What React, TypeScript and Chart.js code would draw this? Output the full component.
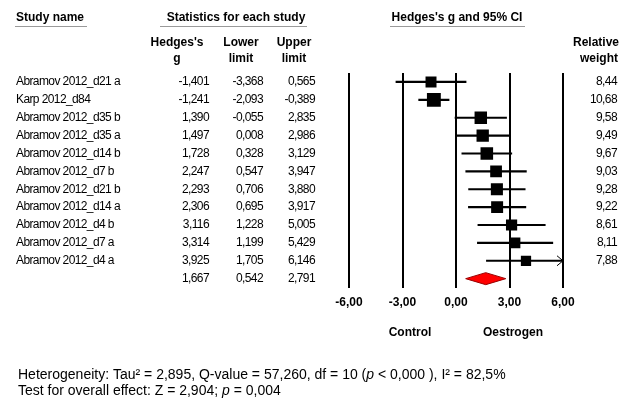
import React, { useEffect, useRef } from 'react';
import { Chart, registerables } from 'chart.js';

Chart.register(...registerables);

// ---------- data ----------
const studies = [
  'Abramov 2012_d21 a',
  'Karp 2012_d84',
  'Abramov 2012_d35 b',
  'Abramov 2012_d35 a',
  'Abramov 2012_d14 b',
  'Abramov 2012_d7 b',
  'Abramov 2012_d21 b',
  'Abramov 2012_d14 a',
  'Abramov 2012_d4 b',
  'Abramov 2012_d7 a',
  'Abramov 2012_d4 a',
];
const hedgesG = [-1.401, -1.241, 1.39, 1.497, 1.728, 2.247, 2.293, 2.306, 3.116, 3.314, 3.925];
const lowerLimit = [-3.368, -2.093, -0.055, 0.008, 0.328, 0.547, 0.706, 0.695, 1.228, 1.199, 1.705];
const upperLimit = [0.565, -0.389, 2.835, 2.986, 3.129, 3.947, 3.88, 3.917, 5.005, 5.429, 6.146];
const relativeWeight = [8.44, 10.68, 9.58, 9.49, 9.67, 9.03, 9.28, 9.22, 8.61, 8.11, 7.88];
const summaryG = 1.667;
const summaryLower = 0.542;
const summaryUpper = 2.791;
const summaryLabel = 'Overall';
const xTicks = [-6, -3, 0, 3, 6];
const leftLabel = 'Control';
const rightLabel = 'Oestrogen';

const FONT = '"Liberation Sans", Arial, Helvetica, sans-serif';
const fmt3 = (v: number) => v.toFixed(3).replace('.', ',');
const fmt2 = (v: number) => v.toFixed(2).replace('.', ',');

const forestPlugin = {
  id: 'forestExtras',
  afterDatasetsDraw(chart: any) {
    const { ctx, scales } = chart;
    const x = scales.x;
    const y = scales.y;
    // summary diamond
    const yc = y.getPixelForValue(studies.length);
    const h = 6;
    ctx.save();
    ctx.beginPath();
    ctx.moveTo(x.getPixelForValue(summaryLower), yc);
    ctx.lineTo(x.getPixelForValue(summaryG), yc - h);
    ctx.lineTo(x.getPixelForValue(summaryUpper), yc);
    ctx.lineTo(x.getPixelForValue(summaryG), yc + h);
    ctx.closePath();
    ctx.fillStyle = '#ff0000';
    ctx.fill();
    ctx.strokeStyle = '#990000';
    ctx.lineWidth = 1;
    ctx.stroke();
    // arrows for clipped intervals
    ctx.strokeStyle = '#000';
    ctx.lineWidth = 1;
    studies.forEach((_, i) => {
      if (upperLimit[i] > x.max) {
        const px = x.getPixelForValue(x.max);
        const py = y.getPixelForValue(i);
        ctx.beginPath();
        ctx.moveTo(px - 6, py - 5);
        ctx.lineTo(px, py);
        ctx.lineTo(px - 6, py + 5);
        ctx.stroke();
      }
    });
    ctx.restore();
  },
  afterDraw(chart: any) {
    const { ctx, scales } = chart;
    const y = scales.y;
    ctx.save();
    ctx.fillStyle = '#000';
    ctx.textBaseline = 'middle';

    // top headers
    ctx.font = `bold 12px ${FONT}`;
    ctx.textAlign = 'left';
    ctx.fillText('Study name', 16, 18);
    ctx.textAlign = 'center';
    ctx.fillText('Statistics for each study', 236, 18);
    ctx.fillText("Hedges's g and 95% CI", 457, 18);

    ctx.strokeStyle = '#9a9a9a';
    ctx.lineWidth = 1;
    const underline = (a: number, b: number) => {
      ctx.beginPath();
      ctx.moveTo(a, 26.5);
      ctx.lineTo(b, 26.5);
      ctx.stroke();
    };
    underline(15, 87);
    underline(160, 307);
    underline(390, 525);

    // column headers
    ctx.fillText("Hedges's", 177, 43);
    ctx.fillText('g', 177, 59);
    ctx.fillText('Lower', 241, 43);
    ctx.fillText('limit', 241, 59);
    ctx.fillText('Upper', 294, 43);
    ctx.fillText('limit', 294, 59);
    ctx.textAlign = 'right';
    ctx.fillText('Relative', 619, 43);
    ctx.fillText('weight', 618, 59);

    // rows
    ctx.font = `12px ${FONT}`;
    (ctx as any).letterSpacing = '-0.6px';
    studies.forEach((s, i) => {
      const py = y.getPixelForValue(i);
      ctx.textAlign = 'left';
      ctx.fillText(s, 16, py);
      ctx.textAlign = 'right';
      ctx.fillText(fmt3(hedgesG[i]), 209, py);
      ctx.fillText(fmt3(lowerLimit[i]), 263, py);
      ctx.fillText(fmt3(upperLimit[i]), 315, py);
      ctx.fillText(relativeWeight[i].toFixed(2).replace('.', ','), 617, py);
    });
    const sy = y.getPixelForValue(studies.length);
    ctx.fillText(fmt3(summaryG), 209, sy);
    ctx.fillText(fmt3(summaryLower), 263, sy);
    ctx.fillText(fmt3(summaryUpper), 315, sy);
    (ctx as any).letterSpacing = '0px';

    // side labels
    ctx.font = `bold 12px ${FONT}`;
    ctx.textAlign = 'center';
    ctx.fillText(leftLabel, 410, 333);
    ctx.fillText(rightLabel, 513, 333);

    // footer
    const drawSegments = (segs: [string, boolean][], x0: number, y0: number) => {
      let cx = x0;
      ctx.textAlign = 'left';
      segs.forEach(([t, it]) => {
        ctx.font = `${it ? 'italic ' : ''}14px ${FONT}`;
        ctx.fillText(t, cx, y0);
        cx += ctx.measureText(t).width;
      });
    };
    drawSegments(
      [
        ['Heterogeneity: Tau\u00b2 = 2,895, Q-value = 57,260, df = 10 (', false],
        ['p', true],
        [' < 0,000 ), I\u00b2 = 82,5%', false],
      ],
      18,
      375
    );
    drawSegments(
      [
        ['Test for overall effect: Z = 2,904; ', false],
        ['p', true],
        [' = 0,004', false],
      ],
      18,
      391
    );
    ctx.restore();
  },
};

export default function App() {
  const ref = useRef<HTMLCanvasElement | null>(null);
  useEffect(() => {
    if (!ref.current) return;
    const rowLabels = [...studies, summaryLabel];
    const chart = new Chart(ref.current, {
      type: 'bar',
      data: {
        labels: rowLabels,
        datasets: [
          {
            type: 'scatter',
            label: 'Hedges g',
            data: studies.map((s, i) => ({ x: hedgesG[i], y: s })) as any,
            pointStyle: 'rect',
            pointRadius: (c: any) => (relativeWeight[c.dataIndex] * 1.3) / 1.4142,
            backgroundColor: '#000',
            borderColor: '#000',
            borderWidth: 0,
            order: 1,
          } as any,
          {
            type: 'bar',
            label: '95% CI',
            data: studies.map((_, i) => [lowerLimit[i], upperLimit[i]]) as any,
            backgroundColor: '#000',
            borderWidth: 0,
            barThickness: 1.5,
            order: 2,
          } as any,
        ],
      },
      options: {
        indexAxis: 'y',
        responsive: false,
        animation: false,
        events: [],
        layout: { padding: { left: 349, right: 72, top: 73, bottom: 81 } },
        plugins: { legend: { display: false }, tooltip: { enabled: false } },
        scales: {
          x: {
            type: 'linear',
            min: -6,
            max: 6,
            afterBuildTicks: (s: any) => {
              s.ticks = xTicks.map((v) => ({ value: v }));
            },
            ticks: {
              callback: (v: any) => fmt2(Number(v)),
              font: { family: FONT, size: 12, weight: 'bold' },
              color: '#000',
              padding: 8,
              maxRotation: 0,
            },
            grid: { color: '#000', lineWidth: 2, drawTicks: false },
            border: { display: false },
          },
          y: {
            type: 'category',
            display: false,
            offset: true,
            grid: { display: false },
          },
        },
      } as any,
      plugins: [forestPlugin],
    });
    return () => chart.destroy();
  }, []);
  return (
    <div style={{ position: 'absolute', left: 0, top: 0, width: 635, height: 399, background: '#fff' }}>
      <canvas ref={ref} width={635} height={399} style={{ display: 'block' }} />
    </div>
  );
}
